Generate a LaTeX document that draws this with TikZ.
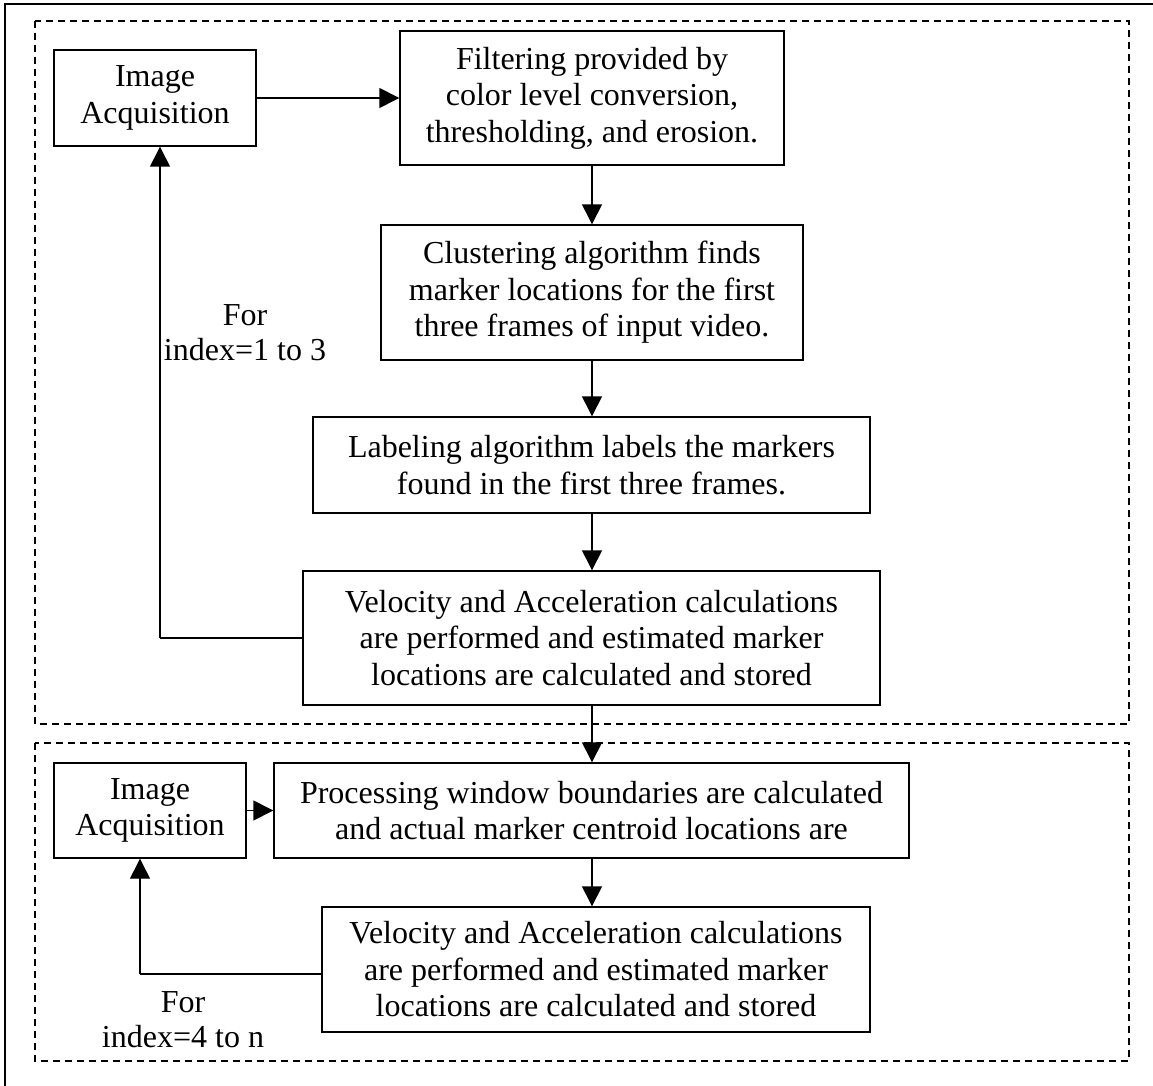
\documentclass[tikz,border=0pt]{standalone}
\usepackage{fontspec}
\setmainfont{Liberation Serif}
\usetikzlibrary{arrows.meta}
\begin{document}
\begin{tikzpicture}[x=1pt,y=-1pt,
  box/.style={draw=black, line width=1.4pt, fill=white, align=center, inner sep=0pt,
    font=\fontsize{32}{36.5}\selectfont},
  lbl/.style={align=center, inner sep=0pt, font=\fontsize{32}{35}\selectfont},
  group/.style={draw=black, line width=1.5pt, dash pattern=on 7pt off 5pt},
  flow/.style={draw=black, line width=1.4pt, -{Triangle[length=20pt,width=20pt]}},
  link/.style={draw=black, line width=1.4pt}]
\useasboundingbox (0,0) rectangle (1153,1086);
\clip (0,0) rectangle (1153,1086);
\fill[white] (0,0) rectangle (1153,1086);

% outer frame
\draw[line width=2pt] (5,4) rectangle (1170,1100);

% grouping frames
\draw[group] (35,21) rectangle (1129,724);
\draw[group] (35,743) rectangle (1129,1061);

% first stage: initial frames
\node[box, minimum width=202pt, minimum height=96pt] (ia1) at (155,98) {Image\\Acquisition};
\node[box, minimum width=384pt, minimum height=134pt] (filt) at (592,98)
  {Filtering provided by\\color level conversion,\\thresholding, and erosion.};
\node[box, minimum width=422pt, minimum height=135pt] (clus) at (592,292.5)
  {Clustering algorithm finds\\marker locations for the first\\three frames of input video.};
\node[box, minimum width=557pt, minimum height=96pt] (lab) at (591.5,465)
  {Labeling algorithm labels the markers\\found in the first three frames.};
\node[box, minimum width=577pt, minimum height=134pt] (vel1) at (591.5,638)
  {Velocity and Acceleration calculations\\are performed and estimated marker\\locations are calculated and stored};

% second stage: remaining frames
\node[box, minimum width=192pt, minimum height=95pt] (ia2) at (150,810.5) {Image\\Acquisition};
\node[box, minimum width=635pt, minimum height=95pt] (proc) at (591.5,810.5)
  {Processing window boundaries are calculated\\and actual marker centroid locations are};
\node[box, minimum width=548pt, minimum height=125pt] (vel2) at (596,969.5)
  {Velocity and Acceleration calculations\\are performed and estimated marker\\locations are calculated and stored};

% loop labels
\node[lbl] (loop1) at (245,333) {For\\index=1 to 3};
\node[lbl] (loop2) at (183,1020) {For\\index=4 to n};

% main flow
\draw[flow] (ia1.east) -- (filt.west);
\draw[flow] (filt.south) -- (clus.north);
\draw[flow] (clus.south) -- (clus.south |- lab.north);
\draw[flow] (clus.south |- lab.south) -- (clus.south |- vel1.north);
\draw[flow] (clus.south |- vel1.south) -- (clus.south |- proc.north);
\draw[flow] (ia2.east) -- (proc.west);
\draw[flow] (clus.south |- proc.south) -- (clus.south |- vel2.north);

% feedback loops
\coordinate (fb1) at (160,638);
\coordinate (fb2) at (140,974);
\draw[link] (vel1.west) -- (fb1);
\draw[flow] (fb1) -- (fb1 |- ia1.south);
\draw[link] (vel2.west |- fb2) -- (fb2);
\draw[flow] (fb2) -- (fb2 |- ia2.south);
\end{tikzpicture}
\end{document}
